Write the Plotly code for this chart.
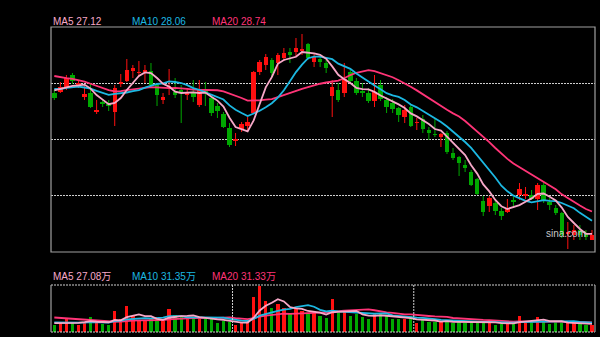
import numpy as np
import plotly.graph_objects as go

# ---------------- data (price in yuan, volume in 万手) ----------------
prior_closes = [40.86, 40.70, 40.46, 40.62, 40.78, 40.54, 40.38, 40.70, 40.62, 40.54,
                38.78, 38.46, 38.70, 38.54, 38.78, 38.06, 38.62, 38.78, 38.86]
prior_volumes = [60, 72, 55, 80, 66, 58, 70, 62, 64, 63,
                 35, 30, 38, 32, 36, 30, 34, 33, 29]

opens = [38.22, 38.30, 38.70, 39.66, 38.86, 37.90, 38.22, 36.70, 37.50, 37.34,
         36.70, 38.94, 39.18, 40.00, 39.82, 39.90, 39.98, 38.86, 37.66, 38.62,
         38.30, 38.46, 38.06, 38.22, 37.26, 38.46, 37.82, 37.18, 36.54, 35.42,
         34.38, 35.34, 35.58, 36.62, 39.90, 40.46, 40.86, 40.62, 41.02, 41.50,
         41.50, 41.58, 42.14, 40.70, 40.94, 40.62, 37.98, 38.46, 38.22, 39.90,
         39.18, 38.34, 38.22, 37.58, 38.86, 37.66, 37.42, 37.02, 36.30, 37.10,
         35.82, 36.14, 35.26, 34.94, 34.70, 35.02, 33.42, 33.10, 32.46, 31.90,
         31.34, 29.58, 29.18, 29.42, 28.78, 28.70, 29.62, 30.06, 30.02, 30.06,
         29.74, 30.86, 29.50, 29.02, 28.62, 26.94, 26.86, 27.26, 26.94, 26.50]
closes = [37.82, 38.70, 39.42, 39.18, 39.02, 38.14, 37.10, 36.86, 37.34, 37.18,
          38.62, 39.10, 40.06, 40.22, 39.90, 40.06, 38.86, 38.06, 37.90, 38.78,
          38.06, 38.30, 38.30, 37.90, 38.54, 38.22, 36.62, 36.78, 35.50, 34.06,
          34.54, 35.74, 35.90, 39.90, 40.70, 41.10, 39.82, 41.26, 41.42, 41.26,
          41.82, 41.74, 41.02, 41.10, 40.70, 40.22, 38.70, 37.66, 39.34, 39.18,
          38.22, 38.26, 37.58, 38.30, 37.74, 37.10, 36.94, 36.46, 36.86, 35.58,
          35.90, 35.34, 35.02, 34.86, 34.94, 33.50, 33.02, 32.62, 32.22, 30.86,
          30.14, 28.70, 29.82, 28.78, 28.38, 29.02, 29.54, 30.54, 30.10, 29.74,
          30.86, 29.66, 29.26, 28.62, 26.86, 27.10, 27.26, 26.86, 26.70, 26.86]
highs = [38.46, 39.10, 39.66, 39.82, 39.26, 38.86, 39.02, 37.66, 37.66, 37.66,
         38.86, 39.74, 40.94, 40.46, 40.78, 40.46, 40.62, 39.02, 38.22, 40.14,
         39.42, 38.86, 38.62, 39.26, 39.26, 39.10, 37.98, 37.42, 36.70, 35.82,
         35.02, 35.90, 36.30, 39.98, 40.86, 41.34, 41.02, 41.42, 41.82, 41.82,
         42.62, 42.94, 42.22, 41.42, 41.10, 40.86, 39.26, 39.02, 40.62, 40.06,
         39.42, 39.02, 38.62, 39.66, 39.26, 37.90, 37.74, 37.10, 37.26, 37.26,
         36.22, 36.46, 35.50, 36.14, 35.02, 35.18, 33.82, 33.18, 32.86, 32.06,
         31.42, 29.98, 29.98, 29.66, 29.02, 29.74, 29.90, 31.02, 30.70, 30.46,
         31.02, 31.02, 29.82, 29.26, 28.70, 27.90, 27.66, 27.66, 27.26, 27.26]
lows = [37.66, 38.22, 38.46, 38.94, 38.62, 37.66, 37.02, 36.54, 37.10, 36.78,
        35.58, 38.70, 39.10, 39.42, 39.50, 39.02, 38.70, 37.18, 37.34, 38.06,
        37.82, 35.82, 37.66, 37.50, 37.10, 37.18, 36.38, 36.22, 35.42, 33.90,
        33.98, 35.10, 35.26, 36.62, 39.66, 40.06, 39.50, 39.66, 40.78, 40.62,
        41.10, 41.26, 40.86, 40.30, 40.30, 39.82, 36.30, 37.50, 37.90, 38.94,
        38.06, 37.90, 37.42, 37.10, 37.58, 36.62, 36.62, 35.90, 35.82, 35.50,
        35.26, 35.02, 34.46, 34.70, 33.90, 33.34, 32.86, 31.58, 31.90, 30.78,
        30.06, 28.38, 28.70, 28.46, 28.06, 28.62, 29.18, 29.66, 29.74, 29.66,
        28.86, 29.42, 28.86, 28.46, 26.62, 25.74, 26.46, 26.46, 26.46, 26.46]
volumes = [23, 30, 43, 33, 25, 33, 49, 31, 27, 23,
           70, 43, 87, 55, 40, 40, 42, 42, 38, 76,
           57, 51, 46, 46, 49, 42, 42, 31, 38, 34,
           23, 29, 34, 118, 155, 102, 80, 94, 79, 62,
           80, 71, 59, 62, 53, 46, 110, 64, 68, 53,
           59, 51, 43, 62, 62, 53, 42, 42, 42, 53,
           31, 40, 34, 34, 34, 40, 29, 34, 29, 38,
           31, 34, 34, 23, 27, 33, 27, 54, 34, 34,
           51, 34, 27, 34, 34, 29, 29, 31, 23, 23]

price_labels = ["MA5 27.12", "MA10 28.06", "MA20 28.74"]
volume_labels = ["MA5 27.08万", "MA10 31.35万", "MA20 31.33万"]
watermark = "sina.com"

# ---------------- styles ----------------
UP = "#FF1010"
DOWN = "#00A800"
C_MA5 = "#F7A8C8"
C_MA10 = "#1CB8E2"
C_MA20 = "#FF3477"
GRID = "#CFCFCF"
BORDER = "#A0A0A0"

n = len(closes)
idx = np.arange(n)


def ma(prior, vals, w):
    a = np.array(prior + vals, dtype=float)
    m = np.convolve(a, np.ones(w) / w, mode="valid")
    return m[-len(vals):]


up = [c >= o for o, c in zip(opens, closes)]
cols = [UP if u else DOWN for u in up]

fig = go.Figure()

# wicks
for flag, col in [(True, UP), (False, DOWN)]:
    xs, ys = [], []
    for i in range(n):
        if up[i] == flag:
            xs += [i, i, None]
            ys += [lows[i], highs[i], None]
    fig.add_trace(go.Scatter(x=xs, y=ys, mode="lines", line=dict(color=col, width=1),
                             hoverinfo="skip", showlegend=False, xaxis="x", yaxis="y"))

# bodies
body_base = [min(o, c) for o, c in zip(opens, closes)]
body_h = [max(abs(c - o), 0.08) for o, c in zip(opens, closes)]
fig.add_trace(go.Bar(x=idx, y=body_h, base=body_base, width=0.74,
                     marker=dict(color=cols, line=dict(width=0)),
                     showlegend=False, xaxis="x", yaxis="y"))

# price MAs
for w, col in [(20, C_MA20), (10, C_MA10), (5, C_MA5)]:
    fig.add_trace(go.Scatter(x=idx, y=ma(prior_closes, closes, w), mode="lines",
                             line=dict(color=col, width=1.8), showlegend=False,
                             xaxis="x", yaxis="y"))

# volume bars
fig.add_trace(go.Bar(x=idx, y=volumes, width=0.55,
                     marker=dict(color=cols, line=dict(width=0)),
                     showlegend=False, xaxis="x2", yaxis="y2"))
for w, col in [(20, C_MA20), (10, C_MA10), (5, C_MA5)]:
    fig.add_trace(go.Scatter(x=idx, y=ma(prior_volumes, volumes, w), mode="lines",
                             line=dict(color=col, width=1.8), showlegend=False,
                             xaxis="x2", yaxis="y2"))

W, H = 600, 337
px = lambda v: v / W
py = lambda v: 1 - v / H
XD = [px(51), px(595)]
PD = [py(252), py(27)]
VD = [py(332), py(285)]

xr = [-0.55, n - 0.5]
fig.update_layout(
    width=W, height=H, margin=dict(l=0, r=0, t=0, b=0),
    paper_bgcolor="black", plot_bgcolor="black", barmode="overlay", bargap=0,
    showlegend=False,
    xaxis=dict(domain=XD, range=xr, visible=False),
    xaxis2=dict(domain=XD, range=xr, visible=False, anchor="y2", matches="x"),
    yaxis=dict(domain=PD, range=[25.5, 43.5], tickvals=[30, 34.5, 39],
               showticklabels=False, showgrid=True, gridcolor=GRID, gridwidth=1,
               griddash="2px,1px", zeroline=False, showline=False),
    yaxis2=dict(domain=VD, range=[0, 157], visible=False, anchor="x2"),
)

shapes = []
# price panel border
shapes.append(dict(type="rect", xref="paper", yref="paper", x0=XD[0], x1=XD[1],
                   y0=PD[0], y1=PD[1], line=dict(color=BORDER, width=1.2)))
# volume panel border: dotted top/bottom, solid sides
for yv in VD:
    shapes.append(dict(type="line", xref="paper", yref="paper", x0=XD[0], x1=XD[1],
                       y0=yv, y1=yv, line=dict(color=GRID, width=1, dash="2px,1px")))
for xv in XD:
    shapes.append(dict(type="line", xref="paper", yref="paper", x0=xv, x1=xv,
                       y0=VD[0], y1=VD[1], line=dict(color=BORDER, width=1.2)))
for xv in [29.5, 59.5]:
    shapes.append(dict(type="line", xref="x2", yref="paper", x0=xv, x1=xv,
                       y0=VD[0], y1=VD[1], line=dict(color=GRID, width=1, dash="2px,1px")))
fig.update_layout(shapes=shapes)

font_fam = "Liberation Sans, Arial, Noto Sans CJK SC"
ann = []
for txt, xx, col in zip(price_labels, [51, 130, 210], [C_MA5, C_MA10, C_MA20]):
    ann.append(dict(text=txt, x=px(xx), y=py(21), xref="paper", yref="paper",
                    xanchor="left", yanchor="middle", showarrow=False,
                    font=dict(family=font_fam, size=10, color=col)))
for txt, xx, col in zip(volume_labels, [51, 130, 210], [C_MA5, C_MA10, C_MA20]):
    ann.append(dict(text=txt, x=px(xx), y=py(276.5), xref="paper", yref="paper",
                    xanchor="left", yanchor="middle", showarrow=False,
                    font=dict(family=font_fam, size=10, color=col)))
ann.append(dict(text=watermark, x=px(544), y=py(233), xref="paper", yref="paper",
                xanchor="left", yanchor="middle", showarrow=False,
                font=dict(family=font_fam, size=10, color="#C8C8C8")))
fig.update_layout(annotations=ann)

fig.write_html("out.html")
